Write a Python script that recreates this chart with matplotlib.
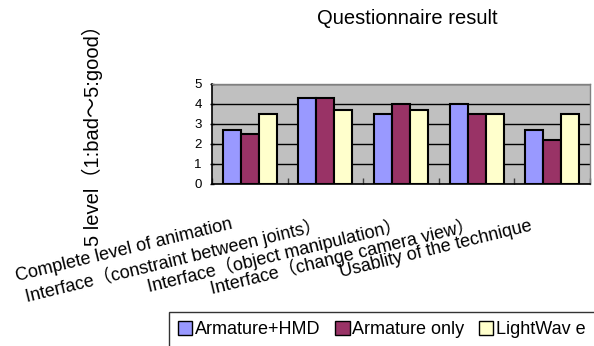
import matplotlib
matplotlib.use("Agg")
import matplotlib.pyplot as plt
from matplotlib.patches import Patch
import numpy as np

plt.rcParams['font.family'] = ['Liberation Sans', 'Noto Sans CJK JP', 'DejaVu Sans']

categories = [
    "Complete level of animation",
    "Interface（constraint between joints）",
    "Interface（object manipulation）",
    "Interface（change camera view）",
    "Usablity of the technique",
]
series_names = ["Armature+HMD", "Armature only", "LightWav e"]
armature_hmd = [2.7, 4.3, 3.5, 4.0, 2.7]
armature_only = [2.5, 4.3, 4.0, 3.5, 2.2]
lightwave = [3.5, 3.7, 3.7, 3.5, 3.5]
colors = ["#9999FF", "#993366", "#FFFFCC"]
yticks = [0, 1, 2, 3, 4, 5]

# label placement (pixel offsets of the label end from the category position)
label_dx = [-17, -3, 2, -1, -19]
label_dy = [-44, -46, -46, -46, -46]

W, H = 594, 346
fig = plt.figure(figsize=(W / 100, H / 100), dpi=100)
ax = fig.add_axes([212 / W, 1 - 184 / H, 378 / W, 100 / H])
ax.set_facecolor("#C0C0C0")

x = np.arange(len(categories))
bw = 0.238
for k, vals in enumerate([armature_hmd, armature_only, lightwave]):
    ax.bar(x + (k - 1) * bw, vals, width=bw, color=colors[k], edgecolor="black",
           linewidth=1.5, zorder=3, label=series_names[k])

ax.set_xlim(-0.5, len(categories) - 0.5)
ax.set_ylim(0, 5)
ax.set_yticks(yticks)
ax.set_yticklabels([str(t) for t in yticks], fontsize=9.5)
ax.tick_params(axis="y", length=3, width=1, pad=6, direction="inout")
ax.yaxis.grid(True, color="black", linewidth=1, zorder=1)
ax.set_axisbelow(True)

ax.set_xticks(np.arange(-0.5, len(categories), 1.0))
ax.set_xticklabels([])
ax.tick_params(axis="x", direction="in", length=4, width=1, color="#404040")

for s in ["top", "right"]:
    ax.spines[s].set_color("#808080")
    ax.spines[s].set_linewidth(1)
ax.spines["left"].set_color("black")
ax.spines["left"].set_linewidth(1.2)
ax.spines["bottom"].set_color("black")
ax.spines["bottom"].set_linewidth(1.2)

for i, lab in enumerate(categories):
    ax.annotate(lab, xy=(x[i], 0), xycoords="data",
                xytext=(label_dx[i], label_dy[i]), textcoords="offset pixels",
                ha="right", va="baseline", rotation=13.7, rotation_mode="anchor",
                fontsize=13, annotation_clip=False)

fig.text(407 / W, 1 - 18 / H, "Questionnaire result", ha="center", va="center",
         fontsize=14.5)
fig.text(92 / W, 1 - 130 / H, "5 level（1:bad～5:good）", rotation=90,
         ha="center", va="center", fontsize=14.5)

handles = [Patch(facecolor=c, edgecolor="black", linewidth=1) for c in colors]
leg = fig.legend(handles, series_names, loc="upper left",
                 bbox_to_anchor=(169 / W, 1 - 312 / H), ncol=3, fontsize=13,
                 frameon=True, fancybox=False, edgecolor="black",
                 handlelength=0.8, handleheight=0.8, handletextpad=0.15,
                 columnspacing=0.8, borderpad=0.5, borderaxespad=0)
leg.get_frame().set_linewidth(1)

fig.savefig("out.png", dpi=100)
